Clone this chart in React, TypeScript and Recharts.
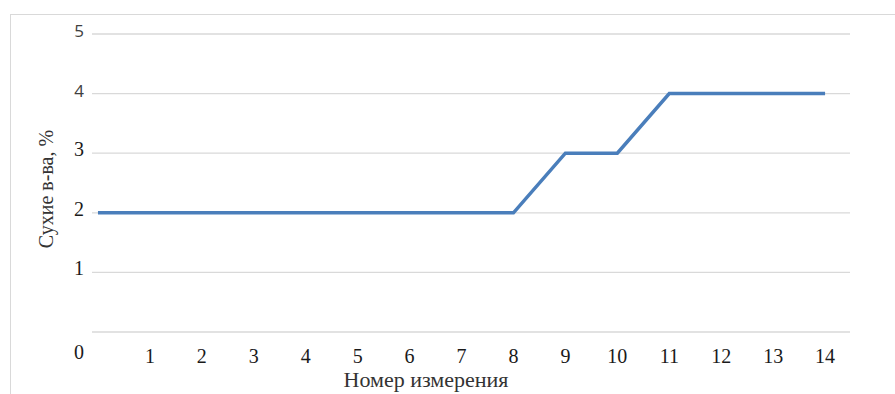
import { LineChart, Line, XAxis, YAxis, CartesianGrid, Label } from 'recharts';

// номер измерения и содержание сухих веществ, %
const measurements = [0, 1, 2, 3, 4, 5, 6, 7, 8, 9, 10, 11, 12, 13, 14];
const dryMatter = [2, 2, 2, 2, 2, 2, 2, 2, 2, 3, 3, 4, 4, 4, 4];

const xTicks = [1, 2, 3, 4, 5, 6, 7, 8, 9, 10, 11, 12, 13, 14];
const yTicks = [0, 1, 2, 3, 4, 5];

const data = measurements.map((n, i) => ({ n, value: dryMatter[i] }));

const SERIF = '"Liberation Serif", "Times New Roman", serif';
const SANS = '"Open Sans", "Liberation Sans", sans-serif';

const YTick = ({ y, payload }: any) => {
  const v = payload.value as number;
  // подпись нуля стоит ниже линии сетки, 4 и 5 набраны рубленым шрифтом
  const sans = v >= 4;
  return (
    <text
      x={79}
      y={y + (v === 0 ? 24 : 0)}
      dy={3}
      textAnchor="middle"
      style={{
        fontFamily: sans ? SANS : SERIF,
        fontSize: sans ? 17 : 20,
        fill: sans ? '#404040' : '#1a1a1a',
      }}
    >
      {v}
    </text>
  );
};

const XTick = ({ x, y, payload }: any) => (
  <text
    x={x}
    y={y}
    dy={23}
    textAnchor="middle"
    style={{ fontFamily: SERIF, fontSize: 20, fill: '#1a1a1a' }}
  >
    {payload.value}
  </text>
);

const XTitle = ({ viewBox }: any) => (
  <text
    x={viewBox.x + viewBox.width / 2 - 45}
    y={viewBox.y + viewBox.height + 25}
    textAnchor="middle"
    style={{ fontFamily: SERIF, fontSize: 22, fill: '#333' }}
  >
    Номер измерения
  </text>
);

const YTitle = ({ viewBox }: any) => {
  const cx = viewBox.x + 14;
  const cy = viewBox.y + viewBox.height / 2 + 6;
  return (
    <text
      x={cx}
      y={cy}
      transform={`rotate(-90 ${cx} ${cy})`}
      textAnchor="middle"
      dominantBaseline="central"
      style={{ fontFamily: SERIF, fontSize: 20, fill: '#333' }}
    >
      Сухие в-ва, %
    </text>
  );
};

export default function App() {
  return (
    <div
      style={{
        position: 'absolute',
        left: 0,
        top: 0,
        width: 895,
        height: 394,
        background: '#fff',
        overflow: 'hidden',
      }}
    >
      <div
        style={{
          position: 'absolute',
          left: 10,
          top: 14,
          width: 900,
          height: 400,
          border: '1px solid #d9d9d9',
        }}
      />
      <LineChart
        width={895}
        height={394}
        data={data}
        margin={{ top: 34, right: 45, bottom: 32, left: 32 }}
        style={{ position: 'absolute', left: 0, top: 0 }}
      >
        <CartesianGrid vertical={false} stroke="#d9d9d9" strokeWidth={1.3} />
        <XAxis
          dataKey="n"
          type="number"
          domain={[-0.115, 14.48]}
          ticks={xTicks}
          allowDataOverflow
          axisLine={false}
          tickLine={false}
          tick={<XTick />}
          height={30}
          interval={0}
        >
          <Label content={<XTitle />} />
        </XAxis>
        <YAxis
          domain={[0, 5]}
          ticks={yTicks}
          axisLine={false}
          tickLine={false}
          tick={<YTick />}
          width={60}
          interval={0}
        >
          <Label content={<YTitle />} />
        </YAxis>
        <Line
          dataKey="value"
          stroke="#4a7ebb"
          strokeWidth={3.5}
          dot={false}
          isAnimationActive={false}
        />
      </LineChart>
    </div>
  );
}
